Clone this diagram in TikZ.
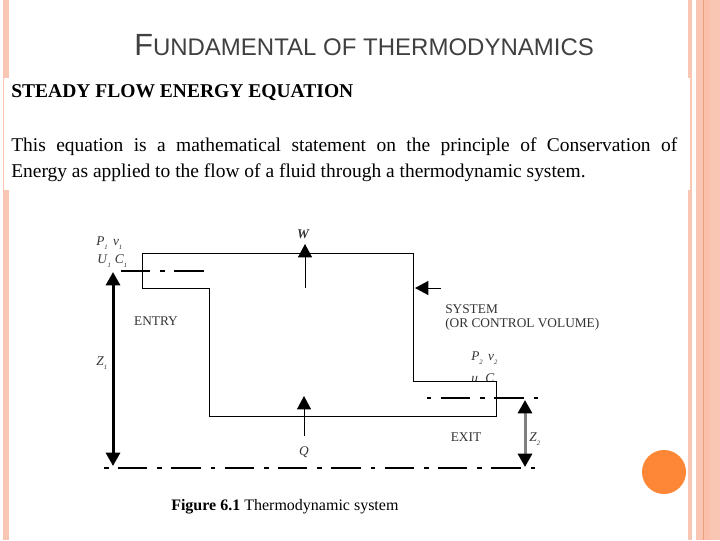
\documentclass[tikz,border=0pt]{standalone}
\usepackage{fontspec}
\setmainfont{Liberation Serif}
\newfontfamily\titlefont{Liberation Sans}
\usetikzlibrary{arrows.meta}
\definecolor{strippink}{HTML}{F9C6B4}
\definecolor{stripdark}{HTML}{FBC0AB}
\definecolor{stripline}{HTML}{E9A07F}
\definecolor{badgeorange}{HTML}{FE8637}
\definecolor{titlegrey}{HTML}{404040}
\newcommand{\symb}[2]{\textit{#1}\raisebox{-3pt}{\fontsize{5pt}{5pt}\selectfont\textit{#2}}}
\tikzset{
    sysline/.style={line width=.7pt,black},
    centreline/.style={line width=1.1pt,black,dash pattern=on 22pt off 7.5pt on 3.5pt off 7pt},
    flowarrow/.style={line width=.7pt,-{Triangle[length=10pt,width=10.5pt,color=black]}},
    heightarrow/.style={line width=2.25pt,{Triangle[length=10pt,width=10.5pt,color=black]}-{Triangle[length=10pt,width=10.5pt,color=black]}},
    figlabel/.style={inner sep=0,font=\fontsize{10pt}{12pt}\selectfont,text=black!80},
}
\begin{document}
\begin{tikzpicture}[x=.75pt,y=-.75pt]
    \useasboundingbox (0,0) rectangle (720,540);
    % frame strips
    \fill[strippink] (3,0) rectangle (9,78);
    \fill[strippink] (3,78) rectangle (4,190);
    \fill[strippink] (3,190) rectangle (9,540);
    \fill[strippink] (688,0) rectangle (692,78);
    \fill[strippink] (690,78) rectangle (692,190);
    \fill[strippink] (688,190) rectangle (692,540);
    \fill[strippink] (696,0) rectangle (720,540);
    \fill[stripdark] (703,0) rectangle (710,540);
    \fill[stripline] (702.5,0) rectangle (703.5,540);
    \fill[badgeorange] (664,472) circle (22);
    % texts
    \node[anchor=base west,inner sep=0,text=titlegrey,font=\titlefont\fontsize{18pt}{20pt}\selectfont] (title) at (134,55)
        {{\fontsize{23pt}{20pt}\selectfont F}UNDAMENTAL OF THERMODYNAMICS};
    \node[anchor=base west,inner sep=0,font=\fontsize{14.65pt}{16pt}\selectfont\bfseries] (heading) at (11,97) {STEADY FLOW ENERGY EQUATION};
    \node[anchor=base west,inner sep=0,font=\fontsize{14.6pt}{19.5pt}\selectfont] (para) at (11,151.5)
        {\makebox[499.5pt][s]{This equation is a mathematical statement on the principle of Conservation of}};
    \node[anchor=base west,inner sep=0,font=\fontsize{14.6pt}{19.5pt}\selectfont] (paratwo) at (11,177)
        {Energy as applied to the flow of a fluid through a thermodynamic system.};
    \node[anchor=base west,inner sep=0,font=\fontsize{12pt}{14pt}\selectfont] (caption) at (171,510)
        {\textbf{Figure 6.1} Thermodynamic system};
    % control volume
    \draw[sysline] (142,253) -- (413,253) -- (413,381) -- (496,381) -- (496,416)
        -- (209,416) -- (209,288) -- (142,288) -- cycle;
    % centre lines
    \coordinate (entrya) at (121,271);
    \coordinate (entryb) at (204,271);
    \coordinate (exita) at (441,398);
    \coordinate (exitb) at (538,398);
    \coordinate (exitc) at (427,398);
    \coordinate (basea) at (118,468);
    \coordinate (baseb) at (536,468);
    \coordinate (basec) at (104,468);
    \draw[centreline] (entrya) -- (entryb);
    \draw[centreline] (exita) -- (exitb);
    \draw[line width=1.1pt] (exitc) -- (430.5,398);
    \draw[centreline] (basea) -- (baseb);
    \draw[line width=1.1pt] (basec) -- (109,468);
    % heights
    \coordinate (zonetop) at (113,272);
    \coordinate (zonebot) at (113,466);
    \coordinate (ztwotop) at (525,400);
    \coordinate (ztwobot) at (525,467);
    \draw[heightarrow] (zonetop) -- (zonebot);
    \draw[heightarrow,draw=black!50] (ztwotop) -- (ztwobot);
    % work, heat, system pointer
    \coordinate (worka) at (305,288);
    \coordinate (workb) at (305,244);
    \coordinate (heata) at (304,436);
    \coordinate (heatb) at (304,396);
    \coordinate (sysa) at (441,288);
    \coordinate (sysb) at (415,288);
    \draw[flowarrow] (worka) -- (workb);
    \draw[flowarrow] (heata) -- (heatb);
    \draw[flowarrow] (sysa) -- (sysb);
    % labels
    \node[figlabel,anchor=base west] (pone) at (96,245) {\symb{P}{1}\hspace{4pt}\symb{v}{1}};
    \node[figlabel,anchor=base west] (uone) at (97,263) {\symb{U}{1}\hspace{3pt}\symb{C}{1}};
    \node[figlabel] (entry) at (156,321) {ENTRY};
    \node[figlabel,anchor=base west] (zone) at (96,365) {\symb{Z}{1}};
    \node[figlabel,font=\fontsize{10pt}{12pt}\selectfont\bfseries\itshape] (work) at (303,234) {W};
    \node[figlabel,anchor=base west] (system) at (445,313) {SYSTEM};
    \node[figlabel,anchor=base west] (volume) at (445,327) {(OR CONTROL VOLUME)};
    \node[figlabel,anchor=base west] (ptwo) at (471,360) {\symb{P}{2}\hspace{4pt}\symb{v}{2}};
    \begin{scope}
        \clip (465,365) rectangle (500,380.5);
        \node[figlabel,anchor=base west] (utwo) at (471,382) {\symb{u}{2}\hspace{3pt}\symb{C}{2}};
    \end{scope}
    \node[figlabel] (exit) at (466,437) {EXIT};
    \node[figlabel,anchor=base west] (ztwo) at (529,441) {\symb{Z}{2}};
    \node[figlabel,font=\fontsize{10pt}{12pt}\selectfont\itshape] (heat) at (304,452.5) {Q};
\end{tikzpicture}
\end{document}
